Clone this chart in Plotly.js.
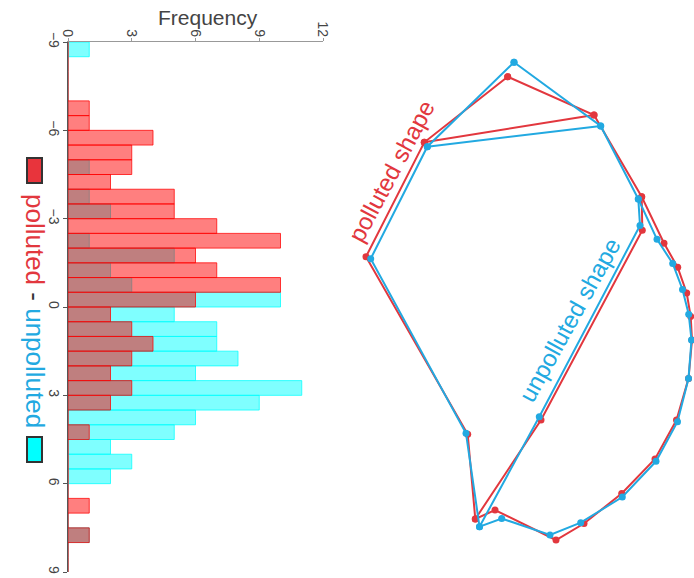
<!DOCTYPE html>
<html><head><meta charset="utf-8">
<script src="https://cdn.plot.ly/plotly-3.0.1.min.js"></script>
<style>html,body{margin:0;padding:0;background:#fff}#chart{width:694px;height:578px}</style>
</head><body><div id="chart"></div>
<script>
// Histogram of (polluted - unpolluted) differences, bins of width 0.5
const binCenters = [-8.75,-8.25,-7.75,-7.25,-6.75,-6.25,-5.75,-5.25,-4.75,-4.25,-3.75,-3.25,-2.75,-2.25,-1.75,-1.25,-0.75,-0.25,
                    0.25,0.75,1.25,1.75,2.25,2.75,3.25,3.75,4.25,4.75,5.25,5.75,6.25,6.75,7.25,7.75,8.25,8.75];
const pollutedCounts   = [0,0,0,0,1,1,4,3,3,2,5,5,7,10,6,7,10,6, 2,3,4,3,2,3,2,0,1,0,0,0,0,1,0,1,0,0];
const unpollutedCounts = [1,0,0,0,0,0,0,0,1,0,1,2,0,1,5,2,3,10, 5,7,7,8,6,11,9,6,5,2,3,2,0,0,0,1,0,0];
const freqTicks = [0,3,6,9,12];
const diffTicks = [-9,-6,-3,0,3,6,9];

// Landmark outlines (null separates sub-paths)
const pollutedShapeX = [507.7,594,641.7,664,677.7,686.7,690.7,692,688.5,676.5,655,621.7,584,556,495,475.3,467.7,366,424.3,507.7,null,
                        424.3,594,null, 475.3,541,642.3,641.7];
const pollutedShapeY = [76.7,115,196.7,243.3,267.3,293,316.5,340,378.5,420,459,493.5,523.5,540,510,519,434.3,256.7,142.3,76.7,null,
                        142.3,115,null, 519,420,230.3,196.7];
const unpollutedShapeX = [514,600.7,638.3,657,672.7,682.5,688.7,691.5,688.5,677.5,656,622.3,580.7,550,501.7,479.5,466,370.7,427.3,514,null,
                          427.3,600.7,null, 479.5,539.3,640,638.3];
const unpollutedShapeY = [62.3,126,199,239.3,263.5,289.5,314.2,340,378.5,421.7,461.3,497,522.7,535,518.5,526.7,433.3,258.7,146.7,62.3,null,
                          146.7,126,null, 526.7,416.7,225.5,199];

const RED = '#e2373e', BLUE = '#22a9e1';
const FONT = 'Liberation Sans, Arial, Helvetica, sans-serif';
const W = 694, H = 578;

const traces = [
  {type:'bar', orientation:'h', y:binCenters, x:unpollutedCounts, width:0.5,
   marker:{color:'rgba(0,255,255,0.5)', line:{color:'rgba(0,255,255,0.75)', width:1}}, xaxis:'x', yaxis:'y', hoverinfo:'x+y'},
  {type:'bar', orientation:'h', y:binCenters, x:pollutedCounts, width:0.5,
   marker:{color:'rgba(255,0,0,0.5)', line:{color:'rgba(255,0,0,0.75)', width:1}}, xaxis:'x', yaxis:'y', hoverinfo:'x+y'},
  {type:'scatter', mode:'lines+markers', x:pollutedShapeX, y:pollutedShapeY, connectgaps:false, cliponaxis:false,
   line:{color:RED, width:2}, marker:{color:RED, size:7}, xaxis:'x2', yaxis:'y2'},
  {type:'scatter', mode:'lines+markers', x:unpollutedShapeX, y:unpollutedShapeY, connectgaps:false, cliponaxis:false,
   line:{color:BLUE, width:2}, marker:{color:BLUE, size:7}, xaxis:'x2', yaxis:'y2'}
];

const layout = {
  width:W, height:H, margin:{l:0,r:0,t:0,b:0}, paper_bgcolor:'#fff', plot_bgcolor:'rgba(0,0,0,0)',
  showlegend:false, barmode:'overlay', bargap:0,
  font:{family:FONT, color:'#444'},
  xaxis:{domain:[68/W, 323/W], range:[0,12], side:'top', anchor:'y', tickvals:freqTicks, tickangle:90,
         showline:true, linecolor:'#999', linewidth:1, ticks:'outside', ticklen:3, tickcolor:'#999',
         ticklabelstandoff:-4,
         showgrid:false, zeroline:false, tickfont:{size:14, color:'#444'}},
  yaxis:{domain:[6/H, 536/H], range:[9,-9], anchor:'x', tickvals:diffTicks, tickangle:90,
         showline:true, linecolor:'#555', linewidth:1, ticks:'outside', ticklen:4, tickcolor:'#555',
         ticklabelstandoff:-3,
         showgrid:false, zeroline:false, tickfont:{size:14, color:'#444'}},
  xaxis2:{domain:[340/W, 1], range:[340,694], anchor:'y2', visible:false},
  yaxis2:{domain:[0,1], range:[578,0], anchor:'x2', visible:false},
  annotations:[
    {xref:'paper', yref:'paper', x:207.5/W, y:(H-17)/H, xanchor:'center', yanchor:'middle',
     text:'Frequency', showarrow:false, font:{size:21, color:'#444'}},
    {xref:'paper', yref:'paper', x:35/W, y:(H-311)/H, xanchor:'center', yanchor:'middle', textangle:90, showarrow:false,
     text:'<span style="color:'+RED+'">polluted</span> - <span style="color:'+BLUE+'">unpolluted</span>',
     font:{size:26, color:'#333'}},
    {xref:'x2', yref:'y2', x:391, y:171, xanchor:'center', yanchor:'middle', textangle:-62, showarrow:false,
     text:'polluted shape', font:{size:24, color:RED}},
    {xref:'x2', yref:'y2', x:569, y:320, xanchor:'center', yanchor:'middle', textangle:-61, showarrow:false,
     text:'unpolluted shape', font:{size:24, color:BLUE}}
  ],
  shapes:[
    {type:'rect', xref:'paper', yref:'paper', x0:27/W, x1:42/W, y0:(H-183)/H, y1:(H-158)/H,
     fillcolor:'#e8343c', line:{color:'#333', width:2}},
    {type:'rect', xref:'paper', yref:'paper', x0:27/W, x1:42/W, y0:(H-462)/H, y1:(H-437)/H,
     fillcolor:'#00ffff', line:{color:'#333', width:2}}
  ]
};

Plotly.newPlot('chart', traces, layout, {displayModeBar:false, staticPlot:true});
</script>
</body></html>
